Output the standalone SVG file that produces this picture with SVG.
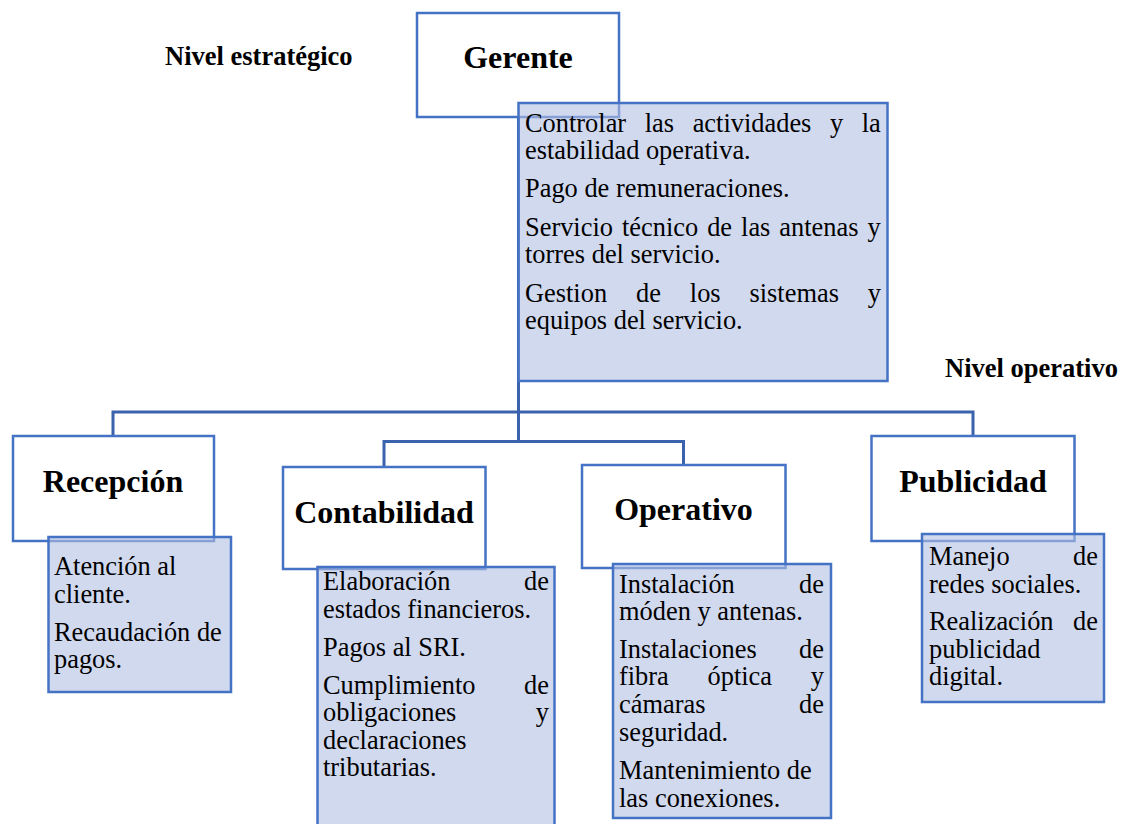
<svg xmlns="http://www.w3.org/2000/svg" width="1122" height="824" viewBox="0 0 1122 824">
<style>
.title{fill:#fff;stroke:#4472C4;stroke-width:2.5}
.desc{fill:#B2C0E3;fill-opacity:0.6;stroke:#4472C4;stroke-width:2.5}
.conn{fill:none;stroke:#3B62AC;stroke-width:3}
.h{font-family:"Liberation Serif","Times New Roman",serif;font-weight:bold;font-size:32px;fill:#000;text-anchor:middle}
.lvl{font-family:"Liberation Serif","Times New Roman",serif;font-weight:bold;font-size:26.5px;fill:#000}
.t{font-family:"Liberation Serif","Times New Roman",serif;font-size:26.4px;fill:#000}
</style>
<rect width="1122" height="824" fill="#fff"/>
<g id="connectors">
<path class="conn" d="M518.5,117 V441.5"/>
<path class="conn" d="M113,438 V412 H973 V436"/>
<path class="conn" d="M384,467 V441.5 H683.5 V465"/>
</g>
<text class="lvl" x="165" y="65">Nivel estratégico</text>
<text class="lvl" x="945" y="377">Nivel operativo</text>
<g id="gerente">
<rect class="title" x="417" y="13" width="202" height="104"/>
<text class="h" x="518" y="68">Gerente</text>
<rect class="desc" x="518.5" y="103" width="369" height="278"/>
<text class="t" x="525" y="132" word-spacing="12">Controlar las actividades y la</text>
<text class="t" x="525" y="159">estabilidad operativa.</text>
<text class="t" x="525" y="197">Pago de remuneraciones.</text>
<text class="t" x="525" y="236" word-spacing="2.4">Servicio técnico de las antenas y</text>
<text class="t" x="525" y="263">torres del servicio.</text>
<text class="t" x="525" y="302" word-spacing="22.3">Gestion de los sistemas y</text>
<text class="t" x="525" y="329">equipos del servicio.</text>
</g>
<g id="recepcion">
<rect class="title" x="13" y="436" width="201" height="105"/>
<text class="h" x="113" y="492">Recepción</text>
<rect class="desc" x="48.5" y="537" width="182.5" height="155"/>
<text class="t" x="54" y="575">Atención al</text>
<text class="t" x="54" y="603">cliente.</text>
<text class="t" x="54" y="641">Recaudación de</text>
<text class="t" x="54" y="668">pagos.</text>
</g>
<g id="contabilidad">
<rect class="title" x="283" y="467" width="202.5" height="102"/>
<text class="h" x="384" y="523">Contabilidad</text>
<rect class="desc" x="317.5" y="567" width="237" height="270"/>
<text class="t" x="323" y="590" word-spacing="66.9">Elaboración de</text>
<text class="t" x="323" y="618">estados financieros.</text>
<text class="t" x="323" y="656">Pagos al SRI.</text>
<text class="t" x="323" y="694" word-spacing="41.9">Cumplimiento de</text>
<text class="t" x="323" y="721" word-spacing="72.7">obligaciones y</text>
<text class="t" x="323" y="749">declaraciones</text>
<text class="t" x="323" y="776">tributarias.</text>
</g>
<g id="operativo">
<rect class="title" x="582" y="465" width="203.5" height="103"/>
<text class="h" x="683.5" y="520">Operativo</text>
<rect class="desc" x="613" y="564" width="218" height="254"/>
<text class="t" x="619" y="593" word-spacing="57.6">Instalación de</text>
<text class="t" x="619" y="620">móden y antenas.</text>
<text class="t" x="619" y="658" word-spacing="35.6">Instalaciones de</text>
<text class="t" x="619" y="685" word-spacing="32.1">fibra óptica y</text>
<text class="t" x="619" y="713" word-spacing="87">cámaras de</text>
<text class="t" x="619" y="741">seguridad.</text>
<text class="t" x="619" y="779">Mantenimiento de</text>
<text class="t" x="619" y="807">las conexiones.</text>
</g>
<g id="publicidad">
<rect class="title" x="871.5" y="436" width="203" height="105"/>
<text class="h" x="973" y="492">Publicidad</text>
<rect class="desc" x="922" y="534" width="182" height="168"/>
<text class="t" x="929" y="565" word-spacing="56.8">Manejo de</text>
<text class="t" x="929" y="593">redes sociales.</text>
<text class="t" x="929" y="630" word-spacing="12.8">Realización de</text>
<text class="t" x="929" y="658">publicidad</text>
<text class="t" x="929" y="685">digital.</text>
</g>
</svg>
